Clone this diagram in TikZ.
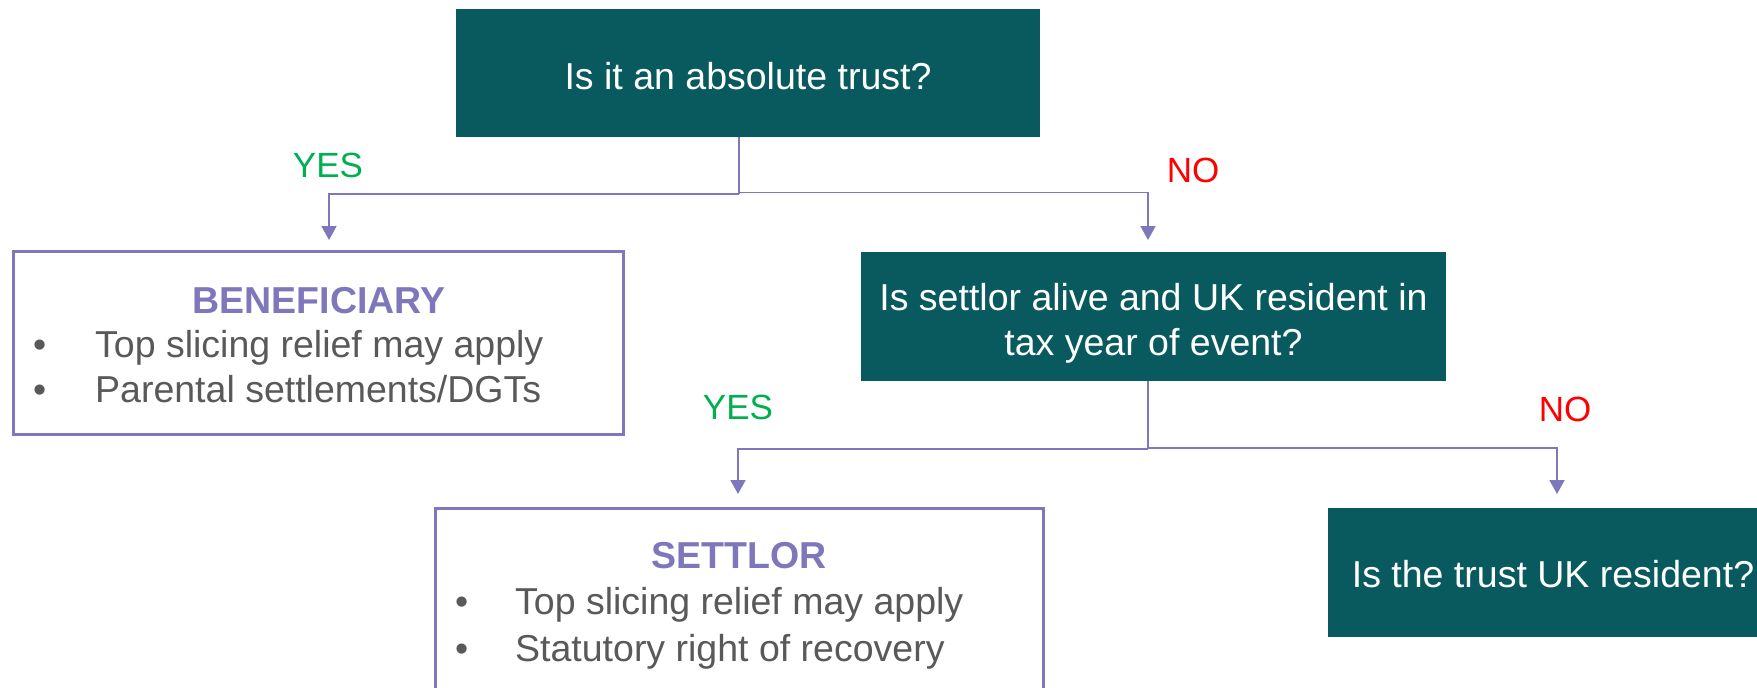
\documentclass[tikz,border=0pt]{standalone}
\usepackage{fontspec}
\setmainfont{Liberation Sans}
\usetikzlibrary{arrows.meta}
\definecolor{qteal}{RGB}{9,90,94}
\definecolor{lilac}{RGB}{127,119,187}
\definecolor{bodygrey}{RGB}{89,89,89}
\definecolor{yesgreen}{RGB}{0,176,80}
\definecolor{nored}{RGB}{255,0,0}
\tikzset{
  question/.style={fill=qteal, inner sep=0pt},
  qtext/.style={text=white, inner sep=0pt, align=center,
    font=\fontsize{37.5}{45}\selectfont},
  outcome/.style={draw=lilac, line width=3pt, fill=white, inner sep=0pt},
  heading/.style={text=lilac, inner sep=0pt, anchor=base,
    font=\fontsize{37.5}{45}\selectfont\bfseries},
  point/.style={text=bodygrey, inner sep=0pt, anchor=base west,
    font=\fontsize{37.5}{45}\selectfont},
  conn/.style={draw=lilac, line width=1.8pt},
  tip/.style={-{Triangle[width=15pt,length=14pt]}},
  answer/.style={inner sep=0pt, font=\fontsize{35}{40}\selectfont}
}
\begin{document}
\begin{tikzpicture}[x=1pt,y=-1pt]
\clip (0,0) rectangle (1757,688);
\fill[white] (0,0) rectangle (1757,688);

% question boxes
\node[question, minimum width=584pt, minimum height=128pt] (top) at (748,73) {};
\node[qtext] (topq) at (748,76) {Is it an absolute trust?};
\node[question, minimum width=585pt, minimum height=129pt] (mid) at (1153.5,316.5) {};
\node[qtext] (midq) at (1153.5,323) {Is settlor alive and UK resident in\\tax year of event?};
\node[question, minimum width=450pt, minimum height=129pt] (res) at (1553,572.5) {};
\node[qtext] (resq) at (1553,574) {Is the trust UK resident?};

% outcome boxes
\node[outcome, minimum width=610pt, minimum height=183pt] (ben) at (318,342.5) {};
\node[heading] (benh) at (319,313) {BENEFICIARY};
\node[point] (ben1) at (33,357) {\makebox[62pt][l]{•}Top slicing relief may apply};
\node[point] (ben2) at (33,402) {\makebox[62pt][l]{•}Parental settlements/DGTs};

\node[outcome, minimum width=608pt, minimum height=200pt] (set) at (739,608) {};
\node[heading] (seth) at (739,568) {SETTLOR};
\node[point] (set1) at (455,614) {\makebox[60pt][l]{•}Top slicing relief may apply};
\node[point] (set2) at (455,661) {\makebox[60pt][l]{•}Statutory right of recovery};

% branch points and arrow tips
\coordinate (j1) at (739,194);
\coordinate (t1) at (329,240);
\coordinate (t2) at (1148,240);
\coordinate (j2) at (1148,449);
\coordinate (t3) at (738,494);
\coordinate (t4) at (1557,494);

% connectors
\draw[conn] (top.south -| j1) -- (j1);
\draw[conn, tip] (j1) -| (t1);
\draw[conn, tip] ([yshift=1.5pt]j1) -| (t2);
\draw[conn] (mid.south -| j2) -- (j2);
\draw[conn, tip] (j2) -| (t3);
\draw[conn, tip] ([yshift=1pt]j2) -| (t4);

% answer labels
\node[answer, text=yesgreen] (yes1) at (328,165) {YES};
\node[answer, text=nored] (no1) at (1193,170) {NO};
\node[answer, text=yesgreen] (yes2) at (738,407) {YES};
\node[answer, text=nored] (no2) at (1565,409) {NO};
\end{tikzpicture}
\end{document}
